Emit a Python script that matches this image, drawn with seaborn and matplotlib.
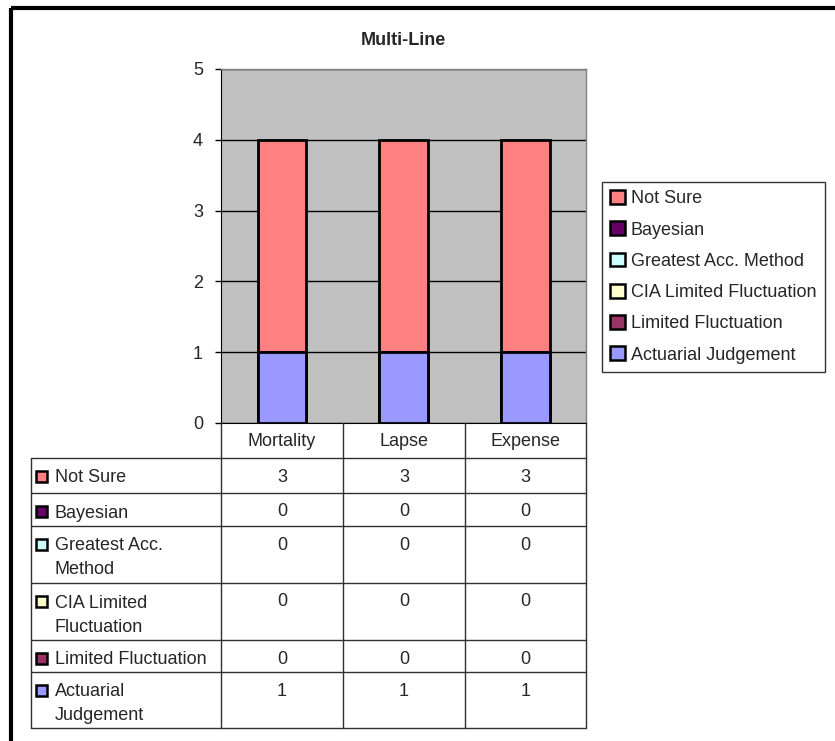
import matplotlib
matplotlib.use('Agg')
import matplotlib.pyplot as plt
import seaborn as sns
import numpy as np
from matplotlib.patches import Patch, Rectangle

categories = ['Mortality', 'Lapse', 'Expense']
series = ['Not Sure', 'Bayesian', 'Greatest Acc. Method', 'CIA Limited Fluctuation',
          'Limited Fluctuation', 'Actuarial Judgement']
table_labels = ['Not Sure', 'Bayesian', 'Greatest Acc.\nMethod', 'CIA Limited\nFluctuation',
                'Limited Fluctuation', 'Actuarial\nJudgement']
not_sure = [3, 3, 3]
bayesian = [0, 0, 0]
greatest = [0, 0, 0]
cia_limited = [0, 0, 0]
limited = [0, 0, 0]
actuarial = [1, 1, 1]
colors = ['#FF8080', '#660066', '#CCFFFF', '#FFFFCC', '#993366', '#9999FF']

values = [not_sure, bayesian, greatest, cia_limited, limited, actuarial]

sns.set_style('white')
plt.rcParams['font.family'] = ['Liberation Sans', 'DejaVu Sans']
FS = 13

W, H = 835, 741
fig = plt.figure(figsize=(W / 100, H / 100), dpi=100)

# plot area in pixels
px0, px1, py0, py1 = 221, 586, 69, 423
ax = fig.add_axes([px0 / W, 1 - py1 / H, (px1 - px0) / W, (py1 - py0) / H])
ax.set_facecolor('#C0C0C0')

# stacked bars: draw cumulative totals from top series down
stack = np.cumsum(np.array(values[::-1]), axis=0)[::-1]
for i, name in enumerate(series):
    sns.barplot(x=categories, y=stack[i], color=colors[i], width=0.4,
                edgecolor='black', linewidth=2, saturation=1, errorbar=None, ax=ax, zorder=3)

ax.set_ylim(0, 5)
ax.set_xlim(-0.5, 2.5)
ax.set_yticks(range(6))
ax.set_xticks([])
ax.set_xlabel('')
ax.set_ylabel('')
ax.grid(axis='y', color='black', linewidth=1, zorder=0)
ax.set_axisbelow(True)
ax.tick_params(axis='y', left=True, length=4, width=1, labelsize=FS, pad=9, color='black')
for s in ['top', 'right']:
    ax.spines[s].set_color('#808080')
    ax.spines[s].set_linewidth(1)
ax.spines['left'].set_color('black')
ax.spines['bottom'].set_color('black')

ax.set_title('Multi-Line', fontsize=13, fontweight='bold', pad=17)

# overlay in pixel coordinates for the data table and border
ov = fig.add_axes([0, 0, 1, 1], facecolor='none')
ov.set_xlim(0, W)
ov.set_ylim(H, 0)
ov.axis('off')

ov.add_patch(Rectangle((11, 8), W + 20, H + 20, fill=False, edgecolor='black', linewidth=3))

col_x = [221, 343, 465, 586]
row_y = [458, 493, 526, 583, 640, 672, 728]
lc = '#303030'
for x in col_x:
    ov.plot([x, x], [423, 728], color=lc, linewidth=1)
ov.plot([31, 31], [458, 728], color=lc, linewidth=1)
for y in row_y:
    ov.plot([31, 586], [y, y], color=lc, linewidth=1)

for j, cat in enumerate(categories):
    cx = (col_x[j] + col_x[j + 1]) / 2
    ov.text(cx, 441, cat, ha='center', va='center', fontsize=FS)

for i, lab in enumerate(table_labels):
    top = row_y[i]
    ov.add_patch(Rectangle((36, top + 13), 11, 11, facecolor=colors[i], edgecolor='black', linewidth=1.8))
    for k, line in enumerate(lab.split('\n')):
        ov.text(55, top + 20 + 24 * k, line, ha='left', va='center', fontsize=FS)
    for j in range(len(categories)):
        cx = (col_x[j] + col_x[j + 1]) / 2
        ov.text(cx, top + 19, str(values[i][j]), ha='center', va='center', fontsize=FS)

handles = [Patch(facecolor=c, edgecolor='black', linewidth=1.8) for c in colors]
leg = fig.legend(handles, series, loc='upper left', bbox_to_anchor=(602 / W, 1 - 182 / H),
                 fontsize=FS, frameon=True, fancybox=False, edgecolor='black',
                 handlelength=0.8, handleheight=0.8, handletextpad=0.35,
                 labelspacing=0.78, borderpad=0.45, borderaxespad=0)
leg.get_frame().set_linewidth(1)

fig.savefig('out.png', dpi=100, facecolor='white')
